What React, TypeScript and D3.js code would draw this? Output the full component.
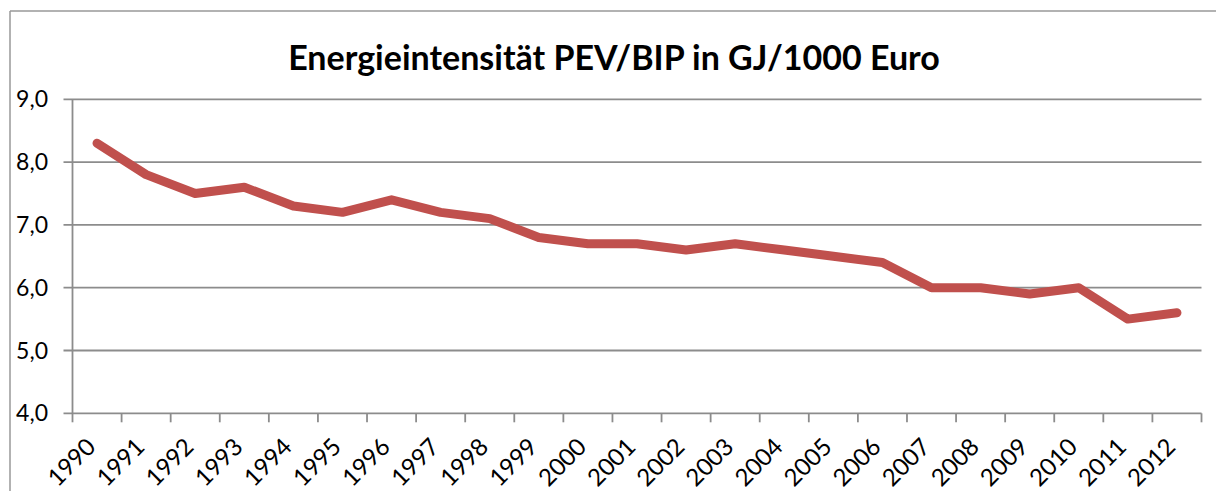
import React from "react";
import * as d3 from "d3";

const years = ["1990","1991","1992","1993","1994","1995","1996","1997","1998","1999","2000","2001","2002","2003","2004","2005","2006","2007","2008","2009","2010","2011","2012"];
const values = [8.3,7.8,7.5,7.6,7.3,7.2,7.4,7.2,7.1,6.8,6.7,6.7,6.6,6.7,6.6,6.5,6.4,6.0,6.0,5.9,6.0,5.5,5.6];
const yTicks = [4,5,6,7,8,9];
const title = "Energieintensität PEV/BIP in GJ/1000 Euro";

export default function App() {
  const W = 1216, H = 491;
  const left = 72.5, right = 1201.5, top = 99.3, bottom = 413.3;
  const x = d3.scaleBand<string>().domain(years).range([left, right]);
  const y = d3.scaleLinear().domain([4, 9]).range([bottom, top]);
  const line = d3.line<number>()
    .x((_, i) => (x(years[i]) as number) + x.bandwidth() / 2)
    .y((d) => y(d));
  const font = "Lato, 'Open Sans', sans-serif";
  const grid = "#8c8c8c";
  return (
    <svg width={W} height={H} style={{ position: "absolute", left: 0, top: 0 }}>
      <rect x={0} y={0} width={W} height={H} fill="#fff" />
      <line x1={10} x2={W} y1={11} y2={11} stroke="#999" strokeWidth={1.5} />
      <line x1={10} x2={10} y1={11} y2={H} stroke="#999" strokeWidth={1.5} />
      <text x={614} y={70} textAnchor="middle" fontFamily={font} fontWeight="bold" fontSize={34} fill="#000">{title}</text>
      {yTicks.map((t) => (
        <g key={t}>
          <line x1={left - 9} x2={right} y1={y(t)} y2={y(t)} stroke={grid} strokeWidth={1.8} />
          <text x={48} y={y(t) + 8} textAnchor="end" fontFamily={font} fontSize={23} fill="#000">{d3.format(".1f")(t).replace(".", ",")}</text>
        </g>
      ))}
      <line x1={left} x2={left} y1={top} y2={bottom} stroke={grid} strokeWidth={1.8} />
      {years.map((yr) => (
        <line key={"t" + yr} x1={x(yr) as number} x2={x(yr) as number} y1={bottom} y2={bottom + 9} stroke={grid} strokeWidth={1.8} />
      ))}
      <line x1={right} x2={right} y1={bottom} y2={bottom + 9} stroke={grid} strokeWidth={1.8} />
      {years.map((yr) => {
        const cx = (x(yr) as number) + x.bandwidth() / 2;
        return (
          <text key={yr} transform={`translate(${cx},${bottom + 35}) rotate(-45)`} textAnchor="end" fontFamily={font} fontSize={24} fill="#000">{yr}</text>
        );
      })}
      <path d={line(values) || ""} fill="none" stroke="#C0504D" strokeWidth={9} strokeLinejoin="round" strokeLinecap="round" />
    </svg>
  );
}
